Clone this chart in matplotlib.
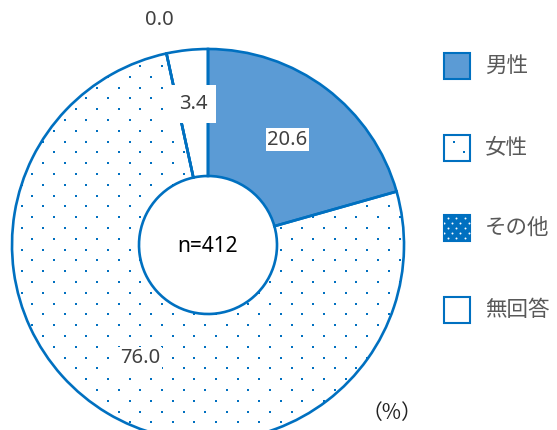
import numpy as np
import matplotlib
matplotlib.use("Agg")
import matplotlib.pyplot as plt
from matplotlib.patches import Rectangle

plt.rcParams['font.family'] = ['Noto Sans', 'Noto Sans CJK JP', 'DejaVu Sans']

# Data
categories = ['男性', '女性', 'その他', '無回答']
values = [20.6, 76.0, 0.0, 3.4]
sample_label = 'n=412'
unit_label = '（%）'

# Style
BLUE = '#0070C0'
LIGHT_BLUE = '#5B9BD5'
TEXT = '#404040'
face_colors = [LIGHT_BLUE, 'white', BLUE, 'white']
label_radius = [132, 132, 230, 142]
label_pad = [0.08, 0.08, 0.0, 0.45]
label_box = [True, True, False, True]

W, H = 557, 430
fig = plt.figure(figsize=(W / 100, H / 100), dpi=100)
ax = fig.add_axes([0, 0, 1, 1])

center = (208, H - 245)
R_OUT, R_IN = 196, 69

# Ring faces
wedges, _ = ax.pie(values, startangle=90, counterclock=False, radius=R_OUT,
                   center=center, colors=face_colors,
                   wedgeprops=dict(width=R_OUT - R_IN, linewidth=0, edgecolor='none'))
for w in wedges:
    w.set_zorder(1)

# Dot pattern for the 女性 slice
def dot_grid(x0, y0, dx, dy, xmin, xmax, ymin, ymax):
    pts = []
    ys = np.arange(y0 - dy * 60, ymax + dy, dy)
    for k, y in enumerate(ys):
        if y < ymin - dy:
            continue
        off = (k % 2) * dx / 2
        xs = np.arange(x0 + off - dx * 40, xmax + dx, dx)
        xs = xs[(xs > xmin - dx) & (xs < xmax + dx)]
        pts.extend((x, y) for x in xs)
    return np.array(pts)

grid = dot_grid(21.5, H - 76.7 - 10.8 * 40, 21.6, 10.8, 0, W, 0, H)
DOT_S = 3.8
dots = ax.scatter(grid[:, 0], grid[:, 1], marker='s', s=DOT_S, color=BLUE,
                  linewidths=0, zorder=2)
dots.set_clip_path(wedges[1])

# Ring outlines
outl, _ = ax.pie(values, startangle=90, counterclock=False, radius=R_OUT,
                 center=center, colors=['none'] * len(values),
                 wedgeprops=dict(width=R_OUT - R_IN, linewidth=1.9,
                                 edgecolor=BLUE, fill=False))
for w in outl:
    w.set_zorder(3)

# Value labels
cum = 0.0
total = sum(values)
for v, r, pad, box in zip(values, label_radius, label_pad, label_box):
    mid = np.deg2rad(90 - 360 * (cum + v / 2) / total)
    cum += v
    x = center[0] + r * np.cos(mid)
    y = center[1] + r * np.sin(mid)
    kw = {}
    if box:
        kw['bbox'] = dict(boxstyle=f'square,pad={pad}', fc='white', ec='none')
    ax.text(x, y, f'{v:.1f}', ha='center', va='center', fontsize=14.5,
            color=TEXT, zorder=4, **kw)

ax.text(center[0], center[1] - 2, sample_label, ha='center', va='center',
        fontsize=15, color='black', zorder=4)

# Legend
leg_y = [H - 66, H - 148, H - 228, H - 310]
sq = 26
lx = 444
for cat, fc, yc in zip(categories, face_colors, leg_y):
    rect = Rectangle((lx, yc - sq / 2), sq, sq, facecolor=fc, edgecolor=BLUE,
                     linewidth=1.5, zorder=3)
    ax.add_patch(rect)
    if cat == '女性':
        d = ax.scatter(grid[:, 0], grid[:, 1], marker='s', s=DOT_S, color=BLUE,
                       linewidths=0, zorder=4)
        d.set_clip_path(rect)
    elif cat == 'その他':
        g2 = dot_grid(lx + 4, yc - sq / 2 + 3, 8.3, 5, lx, lx + sq, yc - sq, yc + sq)
        d = ax.scatter(g2[:, 0], g2[:, 1], marker='o', s=2.0, color='white',
                       linewidths=0, zorder=4)
        d.set_clip_path(rect)
    ax.text(lx + sq + 15, yc, cat, ha='left', va='center', fontsize=15.5,
            color='#595959', family=['Noto Sans CJK JP'])

ax.text(392, H - 413, unit_label, ha='center', va='center', fontsize=15,
        color='#222222', family=['Noto Sans CJK JP'])

ax.set_xlim(0, W)
ax.set_ylim(0, H)
ax.set_aspect('equal')
ax.axis('off')

fig.savefig('out.png', dpi=100, facecolor='white')
